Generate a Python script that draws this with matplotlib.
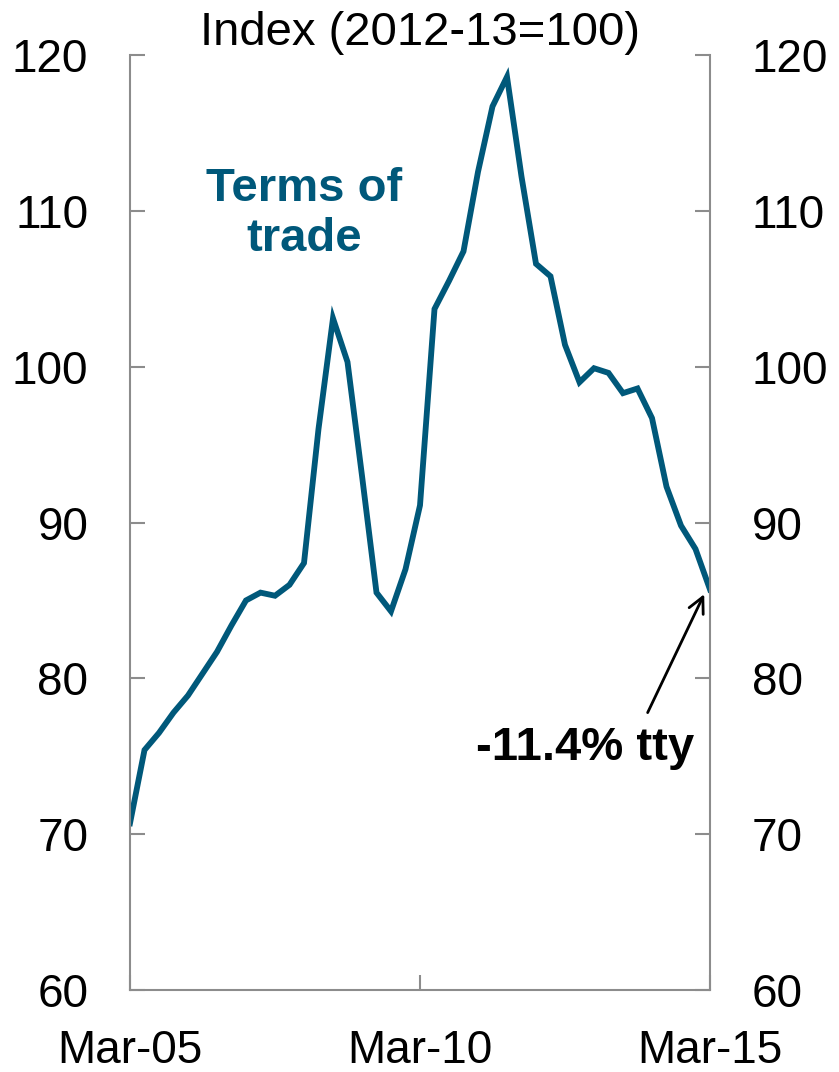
import matplotlib
matplotlib.use('Agg')
import matplotlib.pyplot as plt
import numpy as np

# quarterly terms of trade index, Mar-05 .. Mar-15
quarters = np.arange(41)
tot = [70.7, 75.4, 76.5, 77.8, 78.9, 80.3, 81.7, 83.4, 85.0, 85.5,
       85.3, 86.0, 87.4, 96.0, 103.1, 100.3, 93.0, 85.5, 84.3, 87.0,
       91.1, 103.7, 105.5, 107.4, 112.5, 116.7, 118.6, 112.2, 106.6, 105.8,
       101.4, 99.0, 99.9, 99.6, 98.3, 98.6, 96.7, 92.3, 89.8, 88.3,
       85.7]
xtick_pos = [0, 20, 40]
xtick_labels = ['Mar-05', 'Mar-10', 'Mar-15']
yticks = [60, 70, 80, 90, 100, 110, 120]

line_col = '#00587A'
grey = '#8C8C8C'

plt.rcParams['font.family'] = ['Liberation Sans', 'DejaVu Sans']

fig = plt.figure(figsize=(8.39, 10.72), dpi=100)
ax = fig.add_axes([130 / 839, 82 / 1072, 580 / 839, 935 / 1072])

ax.plot(quarters, tot, color=line_col, linewidth=4.2, solid_joinstyle='miter')

ax.set_xlim(0, 40)
ax.set_ylim(60, 120)
ax.set_yticks(yticks)
ax.set_xticks(xtick_pos)
ax.set_xticklabels(xtick_labels)

for s in ['left', 'right', 'bottom']:
    ax.spines[s].set_color(grey)
    ax.spines[s].set_linewidth(1.5)
ax.spines['top'].set_visible(False)

ax.tick_params(axis='y', direction='in', length=11, width=1.5, color=grey,
               labelsize=33, pad=30, left=True, right=True,
               labelleft=True, labelright=True)
ax.tick_params(axis='x', direction='in', length=11, width=1.5, color=grey,
               labelsize=33, pad=28)

ax.set_title('Index (2012-13=100)', fontsize=34, pad=4)

ax.text(12.0, 109.8, 'Terms of\ntrade', color=line_col, fontsize=34,
        fontweight='bold', ha='center', va='center', linespacing=1.2)

ax.text(31.4, 75.5, '-11.4% tty', fontsize=34, fontweight='bold',
        ha='center', va='center')
ax.annotate('', xy=(39.6, 85.4), xytext=(35.7, 77.8),
            arrowprops=dict(arrowstyle='->', color='black', lw=2,
                            mutation_scale=28, shrinkA=0, shrinkB=0))

fig.savefig('out.png', dpi=100)
plt.close()
